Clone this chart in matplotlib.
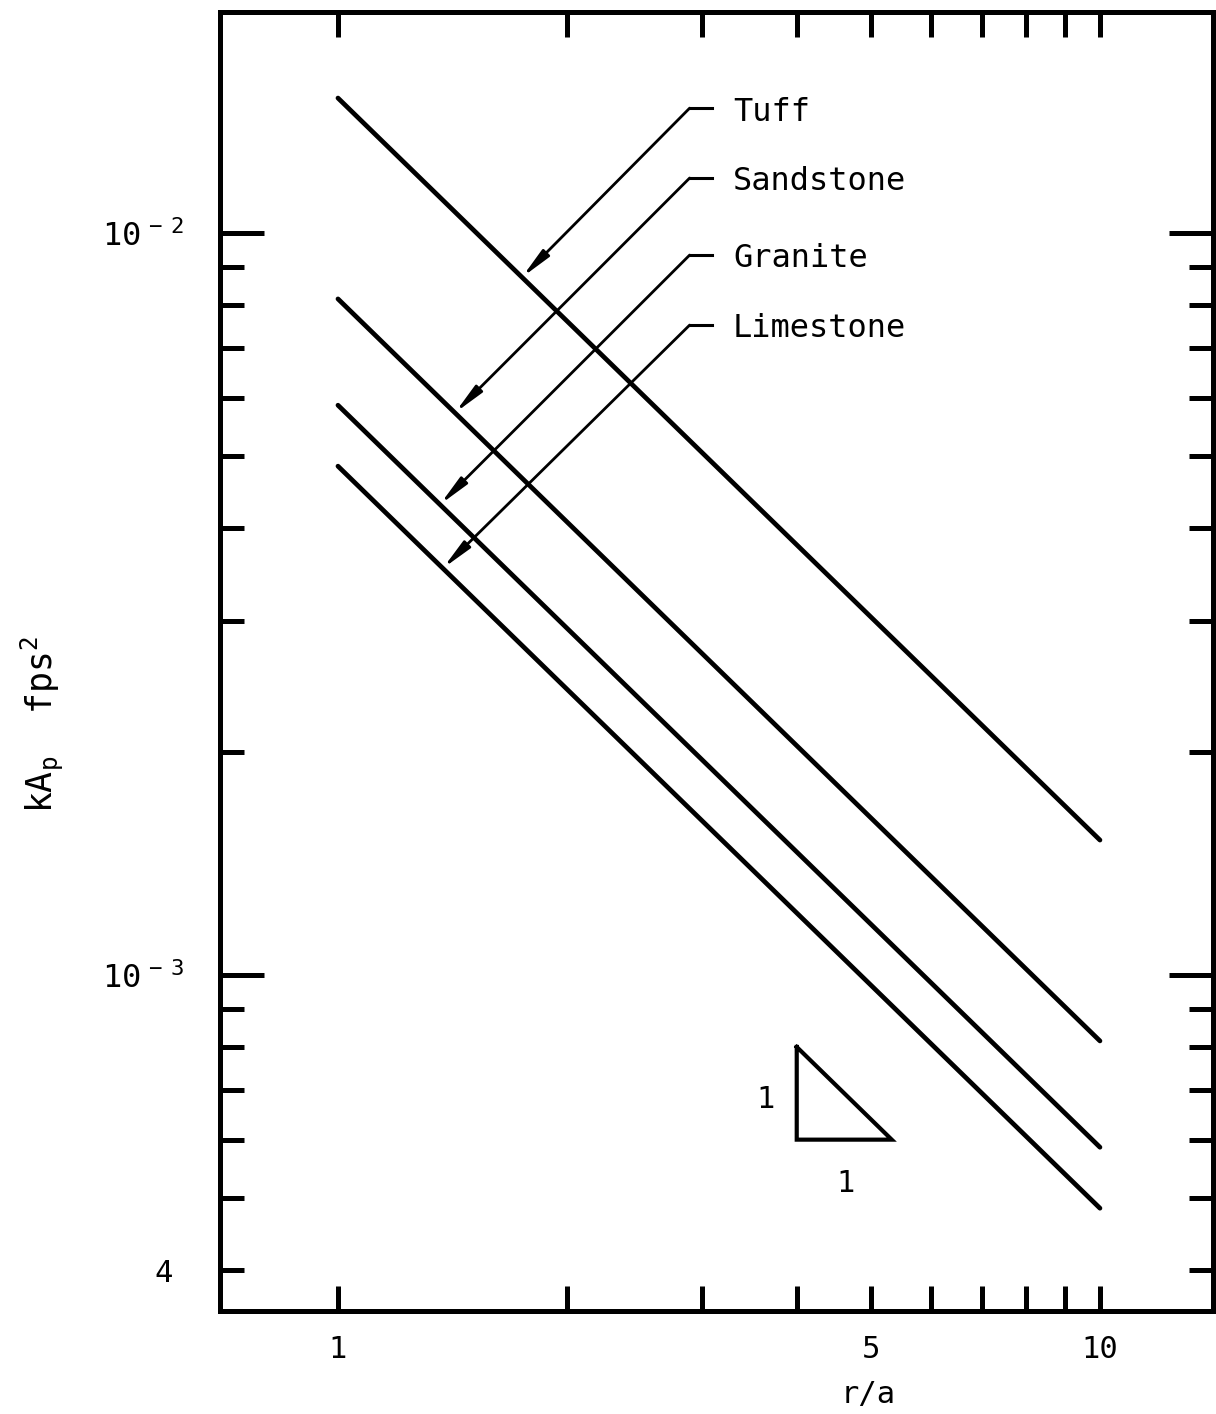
import matplotlib
matplotlib.use("Agg")
import matplotlib.pyplot as plt
from matplotlib.ticker import FixedLocator, FixedFormatter

plt.rcParams["font.family"] = ["DejaVu Sans Mono"]
plt.rcParams["mathtext.default"] = "regular"

# peak acceleration coefficient kA_p = c / (r/a) for each rock type
rocks = ["Tuff", "Sandstone", "Granite", "Limestone"]
coef = [1.52e-2, 8.15e-3, 5.86e-3, 4.85e-3]
r_range = [1.0, 10.0]

# r/a where each label leader hits its line
arrow_r = [1.744, 1.424, 1.361, 1.373]
# leader / label heights (axes fraction)
label_y = [0.926, 0.8722, 0.8129, 0.759]

# 1:1 slope triangle
tri_r = [4.0, 4.0, 5.33, 4.0]
tri_k = [8.0e-4, 6.0e-4, 6.0e-4, 8.0e-4]

x_ticks = [1, 2, 3, 4, 5, 6, 7, 8, 9, 10]
x_ticklabels = ["1", "", "", "", "5", "", "", "", "", "10"]
y_major = [1e-3, 1e-2]
y_major_labels = [r"$10^{\,-\,3}$", r"$10^{\,-\,2}$"]
y_minor = [4e-4, 5e-4, 6e-4, 7e-4, 8e-4, 9e-4,
           2e-3, 3e-3, 4e-3, 5e-3, 6e-3, 7e-3, 8e-3, 9e-3]
y_minor_labels = ["4"] + [""] * (len(y_minor) - 1)

fs = 22

fig = plt.figure(figsize=(12.16, 14.14), dpi=100)
ax = fig.add_axes([0.1809, 0.0728, 0.8166, 0.9187])
ax.set_xscale("log")
ax.set_yscale("log")
ax.set_xlim(0.7001, 14.07)
ax.set_ylim(3.525e-4, 1.985e-2)

for c in coef:
    ax.plot(r_range, [c / r for r in r_range], color="black", lw=3.4,
            solid_capstyle="round")

# leaders with arrows from the labels down to the lines
for name, c, ra, yl in zip(rocks, coef, arrow_r, label_y):
    ax.annotate("", xy=(ra, c / ra), xycoords="data",
                xytext=(0.473, yl), textcoords="axes fraction",
                arrowprops=dict(arrowstyle="-|>,head_length=0.9,head_width=0.14",
                                lw=2.0, color="black", shrinkA=0, shrinkB=0,
                                mutation_scale=20))
    ax.plot([0.473, 0.4955], [yl, yl], transform=ax.transAxes,
            color="black", lw=2.2)
    ax.text(0.5166, yl - 0.003, name, transform=ax.transAxes,
            fontsize=23, va="center", ha="left")

ax.plot(tri_r, tri_k, color="black", lw=3.0, solid_joinstyle="miter")
ax.text(3.635, 6.79e-4, "1", fontsize=fs, ha="center", va="center")
ax.text(4.63, 5.24e-4, "1", fontsize=fs, ha="center", va="center")

for s in ax.spines.values():
    s.set_linewidth(3.6)

ax.xaxis.set_major_locator(FixedLocator(x_ticks))
ax.xaxis.set_major_formatter(FixedFormatter(x_ticklabels))
ax.xaxis.set_minor_locator(FixedLocator([]))
ax.yaxis.set_major_locator(FixedLocator(y_major))
ax.yaxis.set_major_formatter(FixedFormatter(y_major_labels))
ax.yaxis.set_minor_locator(FixedLocator(y_minor))
ax.yaxis.set_minor_formatter(FixedFormatter(y_minor_labels))

ax.tick_params(axis="x", which="major", direction="in", top=True, bottom=True,
               length=18, width=3.6, labelsize=fs, pad=17)
ax.tick_params(axis="y", which="major", direction="in", left=True, right=True,
               length=32, width=3.6, labelsize=23, pad=26)
ax.tick_params(axis="y", which="minor", direction="in", left=True, right=True,
               length=17, width=3.6, labelsize=fs, pad=34)

fig.text(42 / 1216, 1 - 724 / 1414, r"kA$_{p}$  fps$^{2}$", rotation=90,
         fontsize=25, ha="center", va="center")
fig.text(868 / 1216, 1 - 1395 / 1414, "r/a", fontsize=fs,
         ha="center", va="center")

fig.savefig("out.png", dpi=100)
